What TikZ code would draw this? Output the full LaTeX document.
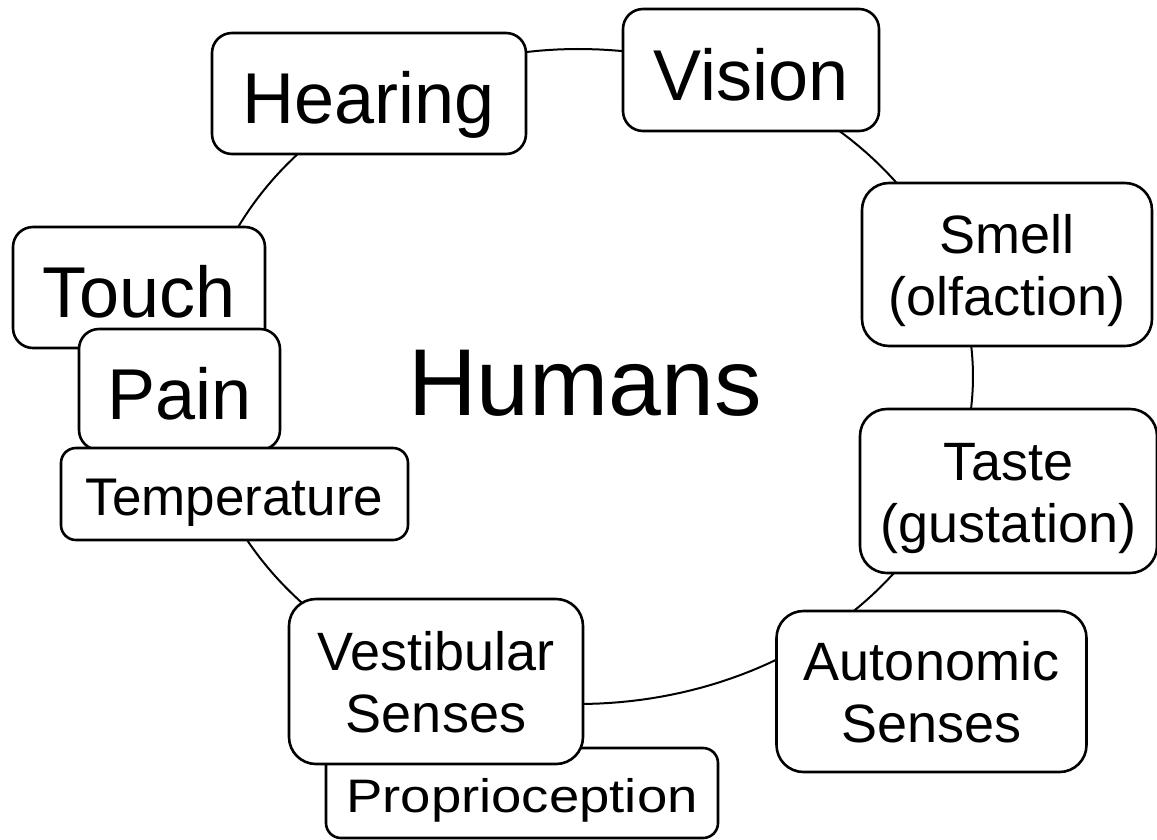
\documentclass[tikz,border=0pt]{standalone}
\usepackage{fontspec}
\setmainfont{Liberation Sans}
\newcommand{\lines}[2]{\begin{tabular}[b]{@{}c@{}}#1\\#2\end{tabular}}
\tikzset{
  sensebox/.style={draw, line width=2.6pt, fill=white, inner sep=0pt, outer sep=0pt, text depth=0pt},
  bigtxt/.style={font=\fontsize{72}{80}\selectfont, text height=60pt, rounded corners=20pt},
  midtxt/.style={font=\fontsize{54}{62}\selectfont, text height=102pt, rounded corners=27pt},
  smalltxt/.style={font=\fontsize{53}{60}\selectfont, text height=42pt, rounded corners=15pt},
  ring/.style={line width=2pt}
}
\begin{document}
\begin{tikzpicture}[x=1pt,y=-1pt]
\useasboundingbox[fill=white] (0,0) rectangle (1157,839);
% ring
\draw[ring] plot[domain=-90:90, samples=120] ({578+395*cos(\x)}, {376.5+327.5*sin(\x)})
  -- plot[domain=90:270, samples=120] ({578+382*cos(\x)}, {376.5+327.5*sin(\x)}) -- cycle;
% boxes
\node[sensebox, bigtxt, minimum width=314pt, minimum height=121pt] (hearing) at (369,93.5) {Hearing};
\node[sensebox, bigtxt, minimum width=256pt, minimum height=122pt] (vision) at (751,70) {Vision};
\node[sensebox, midtxt, minimum width=290pt, minimum height=163pt] (smell) at (1007,264.5) {\lines{Smell}{(olfaction)}};
\node[sensebox, midtxt, minimum width=297pt, minimum height=164pt] (taste) at (1008.5,491) {\lines{Taste}{(gustation)}};
\node[sensebox, midtxt, minimum width=310pt, minimum height=161pt] (autonomic) at (931.5,691.5) {\lines{Autonomic}{Senses}};
\node[sensebox, smalltxt, font=\fontsize{47}{54}\selectfont, text height=38pt, minimum width=392pt, minimum height=90pt] (proprio) at (522,793) {\scalebox{1.16}[1]{Proprioception}};
\node[sensebox, midtxt, minimum width=294pt, minimum height=165pt] (vestibular) at (436,681.5) {\lines{Vestibular}{Senses}};
\node[sensebox, bigtxt, minimum width=252pt, minimum height=121pt] (touch) at (139,287.5) {Touch};
\node[sensebox, bigtxt, minimum width=201pt, minimum height=121pt] (pain) at (179.5,389.5) {Pain};
\node[sensebox, smalltxt, minimum width=347pt, minimum height=92pt] (temperature) at (234.5,494) {Temperature};
\node[font=\fontsize{95}{100}\selectfont, anchor=base, inner sep=0pt] (humans) at (585,415) {Humans};
\end{tikzpicture}
\end{document}
